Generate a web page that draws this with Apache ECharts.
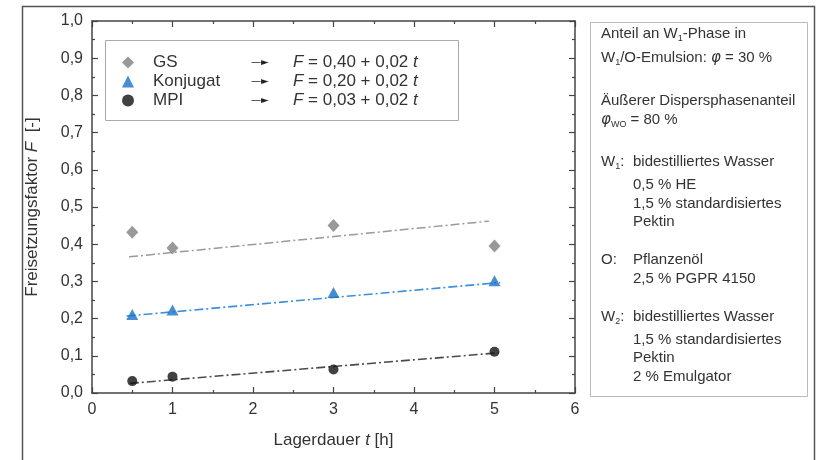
<!DOCTYPE html>
<html>
<head>
<meta charset="utf-8">
<script src="https://cdn.jsdelivr.net/npm/echarts@6/dist/echarts.min.js"></script>
<style>
  html, body { margin: 0; padding: 0; background: #ffffff; }
  #chart { width: 816px; height: 460px; }
</style>
</head>
<body>
<div id="chart"></div>
<script>
// Storage time in hours at which release factors were measured
const storageTimes = [0.5, 1, 3, 5];

// Measured release factor F per emulsion type
const gsValues = [0.432, 0.390, 0.450, 0.395];
const konjugatValues = [0.211, 0.223, 0.270, 0.302];
const mpiValues = [0.032, 0.044, 0.063, 0.111];

// Trend line end points [t, F] as plotted
const gsTrend = [[0.46, 0.366], [4.93, 0.462]];
const konjugatTrend = [[0.43, 0.207], [5.07, 0.297]];
const mpiTrend = [[0.47, 0.026], [5.05, 0.108]];

// Legend names and fitted equations
const seriesNames = ['GS', 'Konjugat', 'MPI'];
const equations = {
  'GS': '0,40 + 0,02',
  'Konjugat': '0,20 + 0,02',
  'MPI': '0,03 + 0,02'
};

// Axis tick ranges
const xTicks = { min: 0, max: 6, step: 1 };
const yTicks = { min: 0, max: 1, step: 0.1 };

const FONT = '"Liberation Sans", Arial, sans-serif';
const TEXT = '#333333';
const AXIS = '#444444';

const pairs = (xs, ys) => xs.map((x, i) => [x, ys[i]]);
const comma = v => v.toFixed(1).replace('.', ',');

const chart = echarts.init(document.getElementById('chart'), null, { renderer: 'canvas' });

const axisLine = { show: true, onZero: false, lineStyle: { color: AXIS, width: 1.5 } };
const axisTick = { show: true, inside: true, length: 6, lineStyle: { color: AXIS, width: 1.2 } };
const minorTick = { show: true, splitNumber: 2, length: 3, lineStyle: { color: AXIS, width: 1.2 } };

// Side note box content: each line with its left position and vertical centre
const noteRich = {
  s: { fontSize: 9, fontFamily: FONT, color: TEXT, verticalAlign: 'bottom', lineHeight: 18 },
  p: { fontSize: 15, fontFamily: '"DejaVu Sans", sans-serif', fontStyle: 'italic', color: '#808080', lineHeight: 18 },
  q: { fontSize: 9, fontFamily: FONT, color: '#808080', verticalAlign: 'bottom', lineHeight: 18 },
  t: { fontSize: 15, fontFamily: FONT, color: TEXT, lineHeight: 18 }
};
const noteLines = [
  [601, 34, '{t|Anteil an W}{s|1}{t|-Phase in}'],
  [601, 58, '{t|W}{s|1}{t|/O-Emulsion: }{p|φ}{t| = 30 %}'],
  [601, 101, '{t|Äußerer Dispersphasenanteil}'],
  [601, 120, '{p|φ}{q|WO}{t| = 80 %}'],
  [601, 162, '{t|W}{s|1}{t|:}'],
  [633, 162, '{t|bidestilliertes Wasser}'],
  [633, 185, '{t|0,5 % HE}'],
  [633, 204, '{t|1,5 % standardisiertes}'],
  [633, 222, '{t|Pektin}'],
  [601, 260, '{t|O:}'],
  [633, 260, '{t|Pflanzenöl}'],
  [633, 279, '{t|2,5 % PGPR 4150}'],
  [601, 317, '{t|W}{s|2}{t|:}'],
  [633, 317, '{t|bidestilliertes Wasser}'],
  [633, 340, '{t|1,5 % standardisiertes}'],
  [633, 358, '{t|Pektin}'],
  [633, 377, '{t|2 % Emulgator}']
];

const graphics = [
  { type: 'rect', left: 20, top: 4, silent: true, z: -1,
    shape: { x: 0, y: 0, width: 792, height: 470 },
    style: { fill: 'none', stroke: '#555555', lineWidth: 1.5 } },
  { type: 'rect', left: 590, top: 22, silent: true,
    shape: { x: 0, y: 0, width: 217, height: 374 },
    style: { fill: '#ffffff', stroke: '#bbbbbb', lineWidth: 1 } },
  { type: 'rect', left: 105, top: 40, silent: true, z: 1,
    shape: { x: 0, y: 0, width: 353, height: 80 },
    style: { fill: '#ffffff', stroke: '#aaaaaa', lineWidth: 1 } }
];
noteLines.forEach(([x, y, txt]) => {
  graphics.push({
    type: 'text', x: x, y: y, silent: true, z: 2,
    style: { text: txt, rich: noteRich, verticalAlign: 'middle', align: 'left', font: '15px ' + FONT, fill: TEXT }
  });
});

const option = {
  backgroundColor: '#ffffff',
  animation: false,
  grid: { left: 92, right: 241, top: 21, bottom: 67 },
  xAxis: [
    {
      type: 'value', position: 'bottom', min: xTicks.min, max: xTicks.max, interval: xTicks.step,
      axisLine, axisTick, minorTick, splitLine: { show: false },
      axisLabel: { fontSize: 16, color: TEXT, fontFamily: FONT, margin: 9 },
      name: '{a|Lagerdauer }{i|t}{a| [h]}', nameLocation: 'middle', nameGap: 39,
      nameTextStyle: {
        rich: {
          a: { fontSize: 17, color: TEXT, fontFamily: FONT },
          i: { fontSize: 17, color: TEXT, fontFamily: FONT, fontStyle: 'italic' }
        }
      }
    },
    {
      type: 'value', position: 'top', min: xTicks.min, max: xTicks.max, interval: xTicks.step,
      axisLine, axisTick, minorTick, splitLine: { show: false }, axisLabel: { show: false }
    }
  ],
  yAxis: [
    {
      type: 'value', position: 'left', min: yTicks.min, max: yTicks.max, interval: yTicks.step,
      axisLine, axisTick, minorTick, splitLine: { show: false },
      axisLabel: { fontSize: 16, color: TEXT, fontFamily: FONT, margin: 9, formatter: comma },
      name: '{a|Freisetzungsfaktor }{i|F}{a|  [-]}', nameLocation: 'middle', nameGap: 51, nameRotate: 90,
      nameTextStyle: {
        rich: {
          a: { fontSize: 17, color: TEXT, fontFamily: FONT },
          i: { fontSize: 17, color: TEXT, fontFamily: FONT, fontStyle: 'italic' }
        }
      }
    },
    {
      type: 'value', position: 'right', min: yTicks.min, max: yTicks.max, interval: yTicks.step,
      axisLine, axisTick, minorTick, splitLine: { show: false }, axisLabel: { show: false }
    }
  ],
  legend: {
    orient: 'vertical', left: 105, top: 40, padding: [14, 0, 10, 17],
    itemWidth: 12, itemHeight: 12, itemGap: 2, z: 5,
    data: [
      { name: 'GS', icon: 'diamond' },
      { name: 'Konjugat', icon: 'triangle' },
      { name: 'MPI', icon: 'circle' }
    ],
    formatter: name => `{g|}{n|${name}}{a|—►}{i|F}{e| = ${equations[name]} }{i|t}`,
    textStyle: {
      rich: {
        g: { width: 14, lineHeight: 19 },
        n: { width: 98, fontSize: 17, color: TEXT, fontFamily: FONT, lineHeight: 19 },
        a: { width: 42, fontSize: 10, color: '#222222', fontFamily: 'DejaVu Sans', lineHeight: 19 },
        i: { fontSize: 17, color: TEXT, fontFamily: FONT, fontStyle: 'italic', lineHeight: 19 },
        e: { fontSize: 17, color: TEXT, fontFamily: FONT, lineHeight: 19 }
      }
    }
  },
  graphic: graphics,
  series: [
    {
      type: 'line', data: gsTrend, showSymbol: false, symbol: 'none', silent: true, z: 2,
      lineStyle: { color: '#9a9a9a', width: 1.5, type: [9, 3, 2, 3] }
    },
    {
      type: 'line', data: konjugatTrend, showSymbol: false, symbol: 'none', silent: true, z: 2,
      lineStyle: { color: '#3a8fdd', width: 1.6, type: [9, 3, 2, 3] }
    },
    {
      type: 'line', data: mpiTrend, showSymbol: false, symbol: 'none', silent: true, z: 2,
      lineStyle: { color: '#4a4a4a', width: 1.6, type: [9, 3, 2, 3] }
    },
    {
      name: 'GS', type: 'scatter', symbol: 'diamond', symbolSize: [12, 13], z: 3,
      itemStyle: { color: '#808080' }, data: pairs(storageTimes, gsValues)
    },
    {
      name: 'Konjugat', type: 'scatter', symbol: 'triangle', symbolSize: [12, 11], z: 3,
      itemStyle: { color: '#1a70c4' }, data: pairs(storageTimes, konjugatValues)
    },
    {
      name: 'MPI', type: 'scatter', symbol: 'circle', symbolSize: 10, z: 3,
      itemStyle: { color: '#111111' }, data: pairs(storageTimes, mpiValues)
    }
  ]
};

chart.setOption(option);
</script>
</body>
</html>
